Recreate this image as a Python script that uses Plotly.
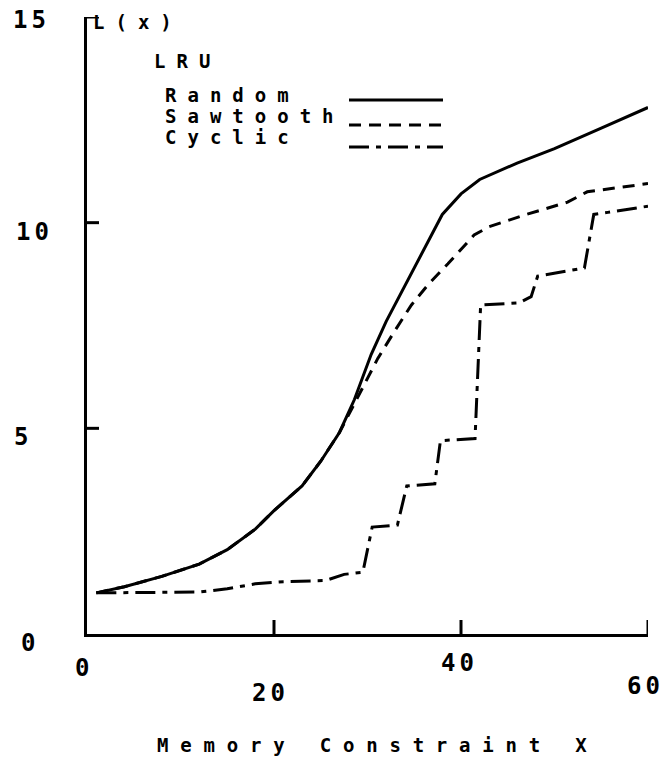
import plotly.graph_objects as go

# ---------------- data ----------------
random_x = [1, 4, 8, 12, 15, 18, 20, 23, 25, 27, 28.6, 30.4, 32, 34.3, 36, 38, 40, 42, 46, 50, 55, 60]
random_y = [1.0, 1.15, 1.4, 1.7, 2.05, 2.55, 3.0, 3.6, 4.2, 4.9, 5.7, 6.8, 7.6, 8.6, 9.3, 10.2, 10.7, 11.05, 11.45, 11.8, 12.3, 12.8]

sawtooth_x = [1, 4, 8, 12, 15, 18, 20, 23, 25, 27, 28.6, 30, 31.1, 33, 34.7, 36.5, 38.6, 41.4, 43, 47, 51.4, 53.5, 60]
sawtooth_y = [1.0, 1.15, 1.4, 1.7, 2.05, 2.55, 3.0, 3.6, 4.2, 4.9, 5.6, 6.2, 6.7, 7.4, 8.0, 8.5, 9.0, 9.7, 9.9, 10.2, 10.5, 10.75, 10.95]

cyclic_x = [1, 12, 15, 18, 21, 25.5, 27.5, 29.5, 30.5, 33.2, 34.2, 37.2, 37.8, 41.5, 42.1, 46.2, 47.5, 48.2, 53.2, 54.2, 55.7, 60]
cyclic_y = [1.0, 1.02, 1.1, 1.22, 1.27, 1.3, 1.45, 1.5, 2.6, 2.65, 3.6, 3.65, 4.7, 4.75, 8.0, 8.05, 8.2, 8.7, 8.9, 10.2, 10.25, 10.4]

x_ticks = [0, 20, 40, 60]
x_tick_labels = ["0", "20", "40", "60"]
y_ticks = [0, 5, 10, 15]
y_tick_labels = ["0", "5", "10", "15"]

series_names = ["Random", "Sawtooth", "Cyclic"]

# ---------------- layout geometry (pixels) ----------------
W, H = 668, 764
L, R, T, B = 87, 20, 17, 130
PW, PH = W - L - R, H - T - B


def px(xp):
    return (xp - L) / PW


def py(yp):
    return (H - B - yp) / PH


FONT = "DejaVu Sans Mono"
INK = "black"


def spaced(s, sp):
    return f'<span style="letter-spacing:{sp}px">{s}</span>'


fig = go.Figure()
dashes = ["solid", "12px,8px", "20px,7px,5px,7px"]
for name, xs, ys, d in zip(series_names,
                           [random_x, sawtooth_x, cyclic_x],
                           [random_y, sawtooth_y, cyclic_y], dashes):
    fig.add_trace(go.Scatter(x=xs, y=ys, mode="lines", name=name,
                             line=dict(color=INK, width=3, dash=d),
                             showlegend=False, hoverinfo="skip"))

shapes = []
# axis extensions at the origin (cross)
shapes.append(dict(type="line", xref="x", yref="y", xsizemode="pixel", xanchor=0,
                   x0=-13, x1=0, y0=0, y1=0, line=dict(color=INK, width=3)))
shapes.append(dict(type="line", xref="x", yref="y", ysizemode="pixel", yanchor=0,
                   x0=0, x1=0, y0=-13, y1=0, line=dict(color=INK, width=3)))
# crossing ticks on y axis
for yv in y_ticks[1:]:
    shapes.append(dict(type="line", xref="x", yref="y", xsizemode="pixel", xanchor=0,
                       x0=-12, x1=12, y0=yv, y1=yv, line=dict(color=INK, width=3)))
# crossing ticks on x axis
for xv in x_ticks[1:]:
    shapes.append(dict(type="line", xref="x", yref="y", ysizemode="pixel", yanchor=0,
                       x0=xv, x1=xv, y0=-12, y1=14, line=dict(color=INK, width=3)))

# legend sample lines (paper coords)
leg_y = [100, 125, 147]
for d, yy in zip(dashes, leg_y):
    shapes.append(dict(type="line", xref="paper", yref="paper",
                       x0=px(349), x1=px(443), y0=py(yy), y1=py(yy),
                       line=dict(color=INK, width=3, dash=d)))

ann = []
tick_font = dict(family=FONT, size=24, color=INK)
text_font = dict(family=FONT, size=19, color=INK)

# x tick labels (staggered like the original)
x_lab_pos = [(84, 668), (270, 693), (459, 663), (645, 686)]
for lab, (xx, yy) in zip(x_tick_labels, x_lab_pos):
    ann.append(dict(text="<b>" + spaced(lab, 4) + "</b>", xref="paper", yref="paper",
                    x=px(xx), y=py(yy), xanchor="center", yanchor="middle",
                    showarrow=False, font=tick_font))
# y tick labels
y_lab_pos = [(30, 643), (23, 437), (34, 232), (31, 20)]
for lab, (xx, yy) in zip(y_tick_labels, y_lab_pos):
    ann.append(dict(text="<b>" + spaced(lab, 4) + "</b>", xref="paper", yref="paper",
                    x=px(xx), y=py(yy), xanchor="center", yanchor="middle",
                    showarrow=False, font=tick_font))

# axis titles and legend text
texts = [
    ("L(x)", 91, 22),
    ("LRU", 152, 61),
    ("Random", 163, 95),
    ("Sawtooth", 163, 116),
    ("Cyclic", 163, 137),
]
for t, xx, yy in texts:
    ann.append(dict(text="<b>" + spaced(t, 11) + "</b>", xref="paper", yref="paper",
                    x=px(xx), y=py(yy), xanchor="left", yanchor="middle",
                    showarrow=False, font=text_font))

ann.append(dict(text="<b>" + spaced("Memory Constraint X", 11.8) + "</b>",
                xref="paper", yref="paper", x=px(155), y=py(745),
                xanchor="left", yanchor="middle", showarrow=False, font=text_font))

fig.update_layout(
    width=W, height=H,
    margin=dict(l=L, r=R, t=T, b=B, pad=0),
    paper_bgcolor="white", plot_bgcolor="white",
    shapes=shapes, annotations=ann,
    xaxis=dict(range=[0, 60], showgrid=False, zeroline=False, showline=True,
               linecolor=INK, linewidth=3, showticklabels=False, ticks=""),
    yaxis=dict(range=[0, 15], showgrid=False, zeroline=False, showline=True,
               linecolor=INK, linewidth=3, showticklabels=False, ticks=""),
)

fig.write_html("out.html", config={"displayModeBar": False},
               post_script="document.body.style.margin='0';document.body.style.overflow='hidden';")
